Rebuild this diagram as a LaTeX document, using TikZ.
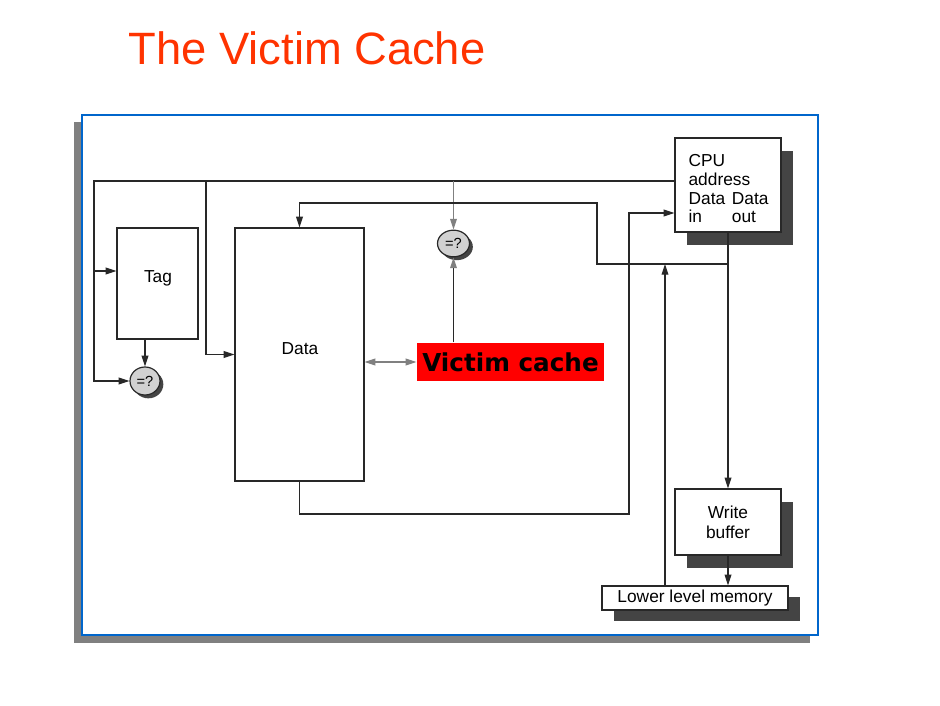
\documentclass[tikz,border=0pt]{standalone}
\usepackage{fontspec}
\setmainfont{Liberation Sans}
\newfontfamily\vcfont{DejaVu Sans}
\usetikzlibrary{arrows.meta,shapes.geometric,shadows}

\definecolor{titlered}{RGB}{255,51,0}
\definecolor{framblue}{RGB}{0,102,204}
\definecolor{boxshade}{RGB}{68,68,68}
\definecolor{wireclr}{RGB}{40,40,40}

\tikzset{every picture/.style={line width=0.9pt}}
\tikzset{
  blk/.style={draw=wireclr, fill=white, rectangle, inner sep=0pt, font=\fontsize{13}{15}\selectfont},
  shadeblk/.style={blk, general shadow={fill=boxshade, shadow xshift=9pt, shadow yshift=-10pt}},
  cmpnode/.style={draw=wireclr, fill=black!18, ellipse, inner sep=0pt, font=\fontsize{11}{11}\selectfont,
    general shadow={fill=boxshade, shadow xshift=2.5pt, shadow yshift=-2.5pt}},
  wire/.style={draw=wireclr},
  arr/.style={wire, -{Triangle[length=8pt,width=5pt]}},
  garr/.style={draw=gray, -{Triangle[length=8pt,width=5pt]}},
}

\begin{document}
\begin{tikzpicture}[x=0.75pt,y=0.75pt,yscale=-1,xscale=1]
\useasboundingbox (0,0) rectangle (940,706);

% Text Node
\node[text=titlered, font=\fontsize{34}{36}\selectfont] (ttl) at (307,48) {The Victim Cache};

%Shape: Rectangle (frame shadow)
\draw [draw=none, fill=gray] (74,122) rectangle (810,643);
%Shape: Rectangle (frame)
\draw [draw=framblue, line width=1.5pt, fill=white] (82,115) rectangle (818,635);

% Boxes
\node[blk, minimum width=60.75pt, minimum height=83.25pt] (tag) at (157.5,283.5) {};
\node (taglbl) at (158,278) {\fontsize{13}{15}\selectfont Tag};
\node[blk, minimum width=96.75pt, minimum height=189.75pt] (data) at (299.5,354.5) {};
\node (datalbl) at (300,349) {\fontsize{13}{15}\selectfont Data};
\node[shadeblk, minimum width=79.5pt, minimum height=70.5pt] (cpu) at (728,185) {};
\node[anchor=north west, align=left, inner sep=0pt, font=\fontsize{13}{14}\selectfont] (cputxt) at (688,154)
  {CPU\\address\\\makebox[2.5em][l]{Data}Data\\\makebox[2.5em][l]{in}out};
\node[shadeblk, minimum width=79.5pt, minimum height=49.5pt, align=center] (wbuf) at (728,522) {Write\\buffer};
\node[blk, minimum width=139.5pt, minimum height=18pt,
  general shadow={fill=boxshade, shadow xshift=9pt, shadow yshift=-8pt}] (llm) at (695,598) {Lower level memory};
\node[fill=red, minimum width=140.25pt, minimum height=28.5pt, inner sep=0pt,
  font=\vcfont\bfseries\fontsize{18.5}{20}\selectfont] (victim) at (510.5,362) {Victim cache};

% Comparators
\node[cmpnode, minimum width=22.5pt, minimum height=21pt] (cmpa) at (145,381) {=?};
\node[cmpnode, minimum width=24pt, minimum height=20pt] (cmpb) at (453.5,243.5) {=?};

% Address bus
\draw[arr] (cpu.west |- 0,181) -| (94,381) -- (cmpa.west);
\draw[arr] (94,271) -- (tag.west |- 0,271);
\draw[arr] (206,181) |- (data.west);
\draw[garr] (cmpb.north |- 0,181) -- (cmpb.north);
\draw[arr] (cmpa.north |- tag.south) -- (cmpa.north);
\draw[wire, -{Triangle[length=8pt,width=5pt,color=gray]}] (cmpb.south |- victim.north) -- (cmpb.south);
\draw[draw=gray, {Triangle[length=8pt,width=5pt]}-{Triangle[length=8pt,width=5pt]}] (data.east |- victim.west) -- (victim.west);

% Data paths
\draw[arr] (cpu.south) -- (wbuf.north);
\draw[arr] (cpu.south |- 0,264) -| (597,203) -| (data.north);
\draw[arr] (data.south) |- (629,514) |- (cpu.west |- 0,213);
\draw[arr] (llm.north -| 665,0) -- (665,264);
\draw[arr] (wbuf.south) -- (llm.north -| wbuf.south);

\end{tikzpicture}
\end{document}
